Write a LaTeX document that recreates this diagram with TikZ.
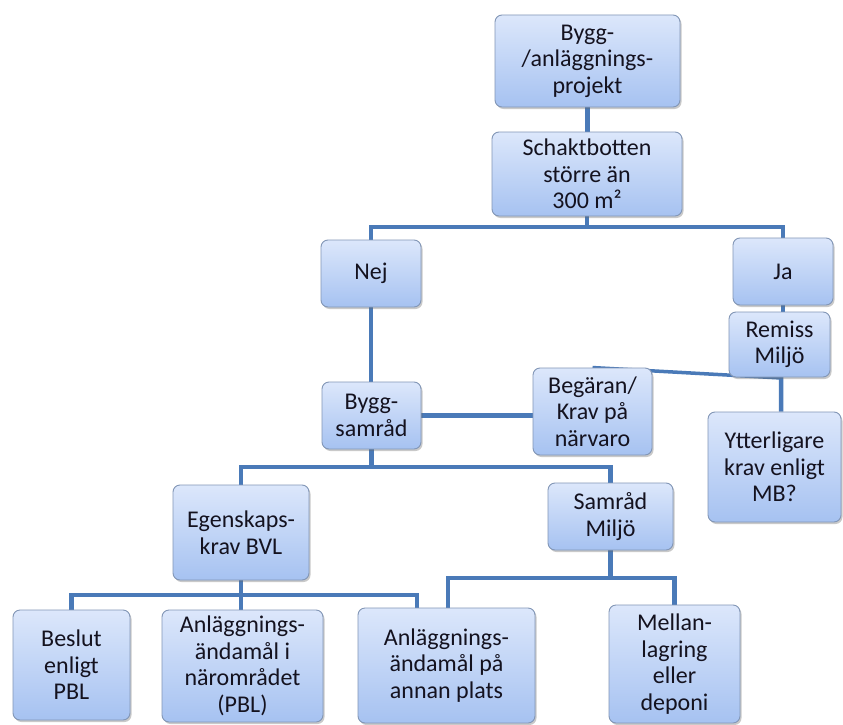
\documentclass[tikz,border=0pt]{standalone}
\usepackage{fontspec}
\setmainfont{Carlito}
\usetikzlibrary{shadows,backgrounds}
\definecolor{lnc}{HTML}{4A7AB8}
\definecolor{topc}{HTML}{DCE7FB}
\definecolor{botc}{HTML}{A6C2F1}
\definecolor{bordc}{HTML}{8296B6}
\definecolor{txtc}{HTML}{14121F}
\begin{document}
\begin{tikzpicture}[x=1pt,y=-1pt,
  box/.style={draw=bordc, line width=0.9pt, rounded corners=7pt,
    top color=topc, bottom color=botc, align=center, text=txtc,
    font=\fontsize{24}{26.5}\selectfont, inner sep=0pt,
    drop shadow={shadow xshift=1.5pt, shadow yshift=-2pt, opacity=0.35, fill=black!60}},
  conn/.style={draw=lnc, line width=4.5pt},
  thinconn/.style={draw=lnc, line width=3.5pt}]
\useasboundingbox (0,0) rectangle (843,725);

\node[box, minimum width=185pt, minimum height=92pt] (top) at (587.5,61) {Bygg-\\/anläggnings-\\projekt};
\node[box, minimum width=190pt, minimum height=84pt] (sch) at (587,174) {Schaktbotten\\större än\\300 m²};
\node[box, minimum width=100pt, minimum height=67pt] (nej) at (371,273.5) {Nej};
\node[box, minimum width=100pt, minimum height=67pt] (ja) at (783,271.5) {Ja};
\node[box, minimum width=101pt, minimum height=65pt] (rem) at (779.5,344.5) {Remiss\\Miljö};
\node[box, minimum width=119pt, minimum height=87pt] (beg) at (592.5,411.5) {Begäran/\\Krav på\\närvaro};
\node[box, minimum width=99pt, minimum height=67pt] (bsam) at (371.5,415.5) {Bygg-\\samråd};
\node[box, minimum width=133pt, minimum height=110pt] (ytt) at (774.5,467) {Ytterligare\\krav enligt\\MB?};
\node[box, minimum width=136pt, minimum height=95pt] (egen) at (241,532.5) {Egenskaps-\\krav BVL};
\node[box, minimum width=125pt, minimum height=67pt] (smil) at (610.5,516.5) {Samråd\\Miljö};
\node[box, minimum width=117pt, minimum height=110pt] (bes) at (71.5,665) {Beslut\\enligt\\PBL};
\node[box, minimum width=161pt, minimum height=112pt] (anl1) at (242.5,666) {Anläggnings-\\ändamål i\\närområdet\\(PBL)};
\node[box, minimum width=177pt, minimum height=115pt] (anl2) at (446.5,665.5) {Anläggnings-\\ändamål på\\annan plats};
\node[box, minimum width=131pt, minimum height=118pt] (mel) at (674.5,664) {Mellan-\\lagring\\eller\\deponi};

\coordinate (j1) at (587,227);
\coordinate (jr) at (781,378);
\coordinate (j3) at (371.5,467);
\coordinate (j4) at (241,595);
\coordinate (j5) at (610.5,578);
\coordinate (a2l) at (417,608);
\coordinate (a2r) at (448,608);

\begin{pgfonlayer}{background}
\fill[white] (0,0) rectangle (843,725);
\draw[conn] (top.south) -- (top.south |- sch.north);
\draw[conn] (sch.south) -- (j1);
\draw[conn] (nej.north) |- (j1) -| (ja.north);
\draw[conn] (nej.south) -- (nej.south |- bsam.north);
\draw[conn] (bsam.east) -- (bsam.east -| beg.west);
\draw[conn] (ja.south) -- (ja.south |- rem.north);
\draw[thinconn] (beg.north) -- (jr);
\draw[conn] (rem.south) -- (jr) -- (jr |- ytt.north);
\draw[conn] (bsam.south) -- (j3);
\draw[conn] (egen.north) |- (j3) -| (smil.north);
\draw[conn] (egen.south) -- (j4);
\draw[conn] (bes.north) |- (j4) -| (a2l);
\draw[conn] (j4) -- (j4 |- anl1.north);
\draw[conn] (smil.south) -- (j5);
\draw[conn] (a2r) |- (j5) -| (mel.north);
\end{pgfonlayer}
\end{tikzpicture}
\end{document}
